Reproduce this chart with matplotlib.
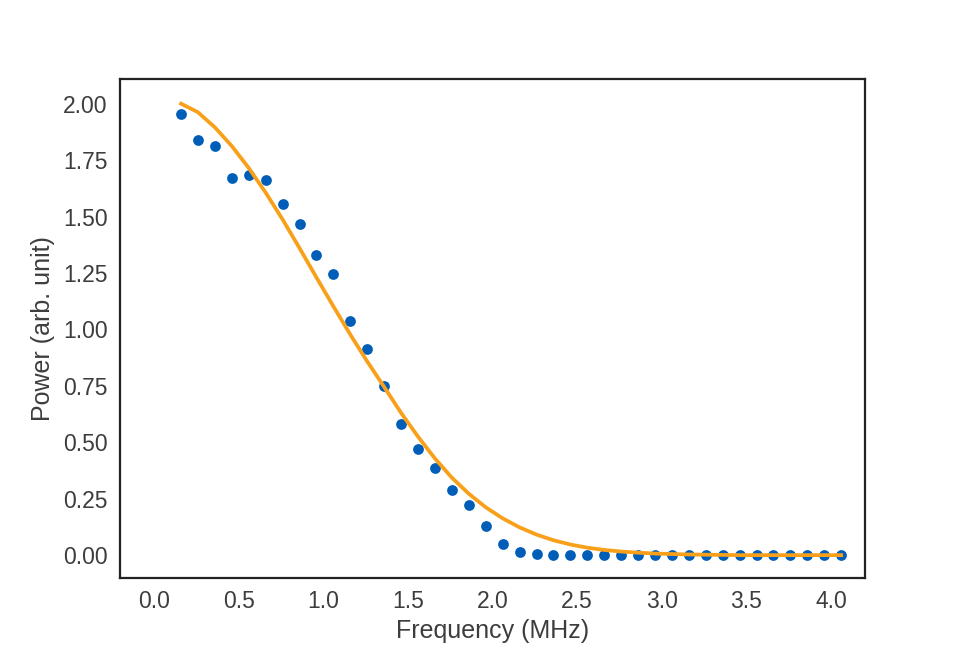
import matplotlib

matplotlib.use("Agg")
import matplotlib.pyplot as plt
import numpy as np

# measured spectrum (MHz, arb. unit)
freq = np.round(np.arange(0.16, 4.07, 0.1), 2)
power = [
    1.956, 1.837, 1.813, 1.673, 1.686, 1.664, 1.556, 1.469, 1.329, 1.244,
    1.036, 0.914, 0.748, 0.583, 0.471, 0.385, 0.289, 0.221, 0.127, 0.050,
    0.013, 0.003, 0.002, 0.002, 0.002, 0.002, 0.002, 0.002, 0.002, 0.002,
    0.002, 0.002, 0.002, 0.002, 0.002, 0.002, 0.002, 0.002, 0.002, 0.002,
]
# fitted curve, evaluated at the same frequencies
fit = [
    2.000, 1.962, 1.895, 1.812, 1.715, 1.606, 1.487, 1.360, 1.230, 1.102,
    0.977, 0.858, 0.745, 0.630, 0.525, 0.428, 0.343, 0.272, 0.212, 0.163,
    0.123, 0.091, 0.066, 0.047, 0.033, 0.023, 0.016, 0.011, 0.007, 0.005,
    0.003, 0.002, 0.001, 0.000, 0.000, 0.000, 0.000, 0.000, 0.000, 0.000,
]

TEXT = "#3d3d3d"
plt.rcParams["font.family"] = ["Liberation Sans", "DejaVu Sans"]
plt.rcParams["text.color"] = TEXT
plt.rcParams["axes.labelcolor"] = TEXT
plt.rcParams["xtick.color"] = TEXT
plt.rcParams["ytick.color"] = TEXT


def plot(path="out.png"):
    fig = plt.figure(figsize=(9.61, 6.61), dpi=100)
    ax = fig.add_axes([0.125, 0.126, 0.775, 0.754])

    ax.scatter(freq, power, s=60, color="#005eb8", linewidths=0, zorder=2)
    ax.plot(freq, fit, color="#f9a01b", linewidth=2.7, zorder=3,
            solid_joinstyle="round")

    ax.set_xlim(-0.2, 4.2)
    ax.set_ylim(-0.1, 2.108)
    ax.set_xticks(np.arange(0, 4.01, 0.5))
    ax.set_yticks(np.arange(0, 2.01, 0.25))
    ax.xaxis.set_major_formatter(plt.FormatStrFormatter("%.1f"))
    ax.yaxis.set_major_formatter(plt.FormatStrFormatter("%.2f"))
    ax.tick_params(length=0, labelsize=16.5, pad=9)

    for sp in ax.spines.values():
        sp.set_color("#222222")
        sp.set_linewidth(1.6)

    ax.set_xlabel("Frequency (MHz)", fontsize=18, labelpad=4)
    ax.set_ylabel("Power (arb. unit)", fontsize=18, labelpad=6)

    fig.savefig(path, dpi=100)


if __name__ == "__main__":
    plot()
